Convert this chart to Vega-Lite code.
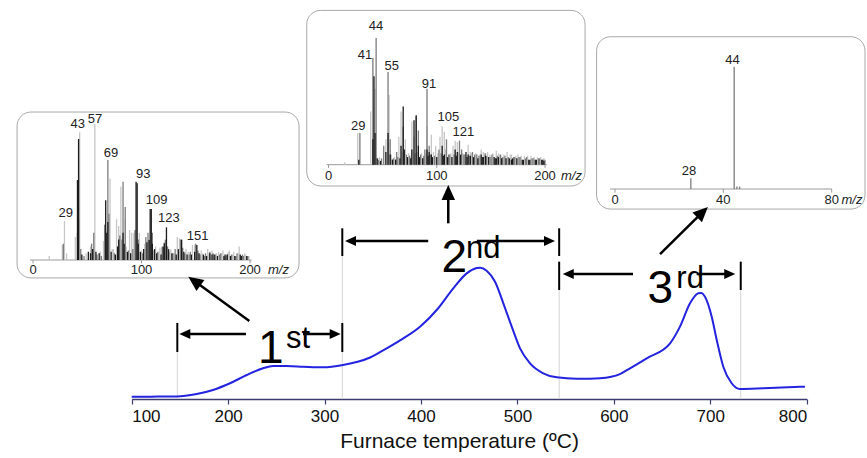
{
  "$schema": "https://vega.github.io/schema/vega-lite/v6.json",
  "width": 867,
  "height": 399,
  "autosize": "none",
  "padding": {"left": 0, "top": 0, "right": 0, "bottom": 59},
  "background": "white",
  "config": {"view": {"stroke": null}, "font": "Liberation Sans"},
  "datasets": {
    "curve": [
      {"T":100,"I":1.75},{"T":120,"I":1.8},{"T":146.7,"I":1.9},{"T":167.4,"I":3.8},{"T":184.3,"I":6.9},{"T":202,"I":12.0},{"T":219.3,"I":18.3},{"T":236.2,"I":23.4},{"T":246.6,"I":25.1},{"T":260.8,"I":25.1},{"T":277.7,"I":24.6},{"T":298.4,"I":24.1},{"T":319.2,"I":25.9},{"T":347.2,"I":31.6},{"T":364.4,"I":38.6},{"T":381.7,"I":46.2},{"T":399,"I":55.1},{"T":416.3,"I":67.8},{"T":433.5,"I":84.3},{"T":447.4,"I":95.7},{"T":457.8,"I":99.7},{"T":461.5,"I":100},{"T":468.1,"I":97.7},{"T":476.8,"I":89.3},{"T":485.4,"I":72.9},{"T":494.1,"I":55.1},{"T":502.7,"I":38.6},{"T":513.1,"I":27.2},{"T":526.8,"I":19.6},{"T":540.7,"I":16.5},{"T":561.5,"I":15.5},{"T":575.3,"I":15.5},{"T":585.7,"I":15.8},{"T":606.4,"I":19.0},{"T":616.8,"I":23.4},{"T":634.1,"I":31.0},{"T":658.3,"I":42.4},{"T":668.6,"I":55.1},{"T":679,"I":72.9},{"T":687.6,"I":80.5},{"T":690.5,"I":80.8},{"T":694.5,"I":77.9},{"T":701.5,"I":62.7},{"T":706.7,"I":44.9},{"T":713.5,"I":24.6},{"T":722.2,"I":12.0},{"T":730.8,"I":7.6},{"T":755,"I":8.1},{"T":798.2,"I":9.4}
    ],
    "segs": [
      {"kind":"guide","T":147.3,"I":0,"T2":147.3,"I2":35.8},
      {"kind":"guide","T":318.4,"I":0,"T2":318.4,"I2":108.9},
      {"kind":"guide","T":543.3,"I":0,"T2":543.3,"I2":83.0},
      {"kind":"guide","T":731.6,"I":0,"T2":731.6,"I2":83.0},
      {"kind":"bar","T":147.3,"I":35.8,"T2":147.3,"I2":57.9},
      {"kind":"bar","T":318.4,"I":35.8,"T2":318.4,"I2":57.9},
      {"kind":"bar","T":318.4,"I":108.9,"T2":318.4,"I2":130.0},
      {"kind":"bar","T":543.3,"I":108.9,"T2":543.3,"I2":130.0},
      {"kind":"bar","T":543.3,"I":83.0,"T2":543.3,"I2":104.6},
      {"kind":"bar","T":731.6,"I":83.0,"T2":731.6,"I2":104.6},
      {"kind":"shaft","T":154.2,"I":49.5,"T2":218.5,"I2":49.5},
      {"kind":"shaft","T":277.6,"I":49.5,"T2":310.8,"I2":49.5},
      {"kind":"shaft","T":326.4,"I":120.3,"T2":407.5,"I2":120.3},
      {"kind":"shaft","T":457.8,"I":120.3,"T2":533.0,"I2":120.3},
      {"kind":"shaft","T":552.7,"I":95.2,"T2":619.9,"I2":95.2},
      {"kind":"shaft","T":685.9,"I":95.2,"T2":720.0,"I2":95.2},
      {"kind":"shaft","T":222.0,"I":59.4,"T2":165.0,"I2":89.8},
      {"kind":"shaft","T":428.3,"I":133.8,"T2":428.3,"I2":157.3},
      {"kind":"shaft","T":647.9,"I":110.4,"T2":692.0,"I2":142.3}
    ],
    "heads": [
      {"kind":"small","T":155.1,"I":49.5,"dir":-90},
      {"kind":"small","T":311.0,"I":49.5,"dir":90},
      {"kind":"small","T":326.9,"I":120.3,"dir":-90},
      {"kind":"small","T":533.3,"I":120.3,"dir":90},
      {"kind":"small","T":552.7,"I":95.2,"dir":-90},
      {"kind":"small","T":720.2,"I":95.2,"dir":90},
      {"kind":"big","T":165.0,"I":89.8,"dir":-54},
      {"kind":"big","T":428.3,"I":157.3,"dir":0},
      {"kind":"big","T":692.0,"I":142.3,"dir":45.6}
    ],
    "labels": [
      {"kind":"big","T":231.0,"I":27.4,"text":"1"},
      {"kind":"big","T":421.3,"I":97.0,"text":"2"},
      {"kind":"big","T":634.8,"I":72.9,"text":"3"},
      {"kind":"sup","T":260.1,"I":38.8,"text":"st"},
      {"kind":"sup","T":446.7,"I":107.4,"text":"nd"},
      {"kind":"sup","T":664.8,"I":84.3,"text":"rd"}
    ],
    "frame1": [
      {"part":"box","mz":-14.7,"v":-13.2,"mz2":245.2,"v2":108.8},
      {"part":"axis","mz":-2.8,"v":0,"mz2":201.6,"v2":0},
      {"part":"tick","mz":0,"v":0,"mz2":0,"v2":-2.5},
      {"part":"tick","mz":100,"v":0,"mz2":100,"v2":-2.5},
      {"part":"tick","mz":200,"v":0,"mz2":200,"v2":-2.5},
      {"part":"tlabel","mz":0,"v":-10.3,"text":"0"},
      {"part":"tlabel","mz":100,"v":-10.3,"text":"100"},
      {"part":"tlabel","mz":200,"v":-10.3,"text":"200"},
      {"part":"unit","mz":216.6,"v":-10.3,"text":"m/z"},
      {"part":"plabel","mz":30.1,"v":31.8,"text":"29"},
      {"part":"plabel","mz":41.2,"v":96.8,"text":"43"},
      {"part":"plabel","mz":57.1,"v":100.9,"text":"57"},
      {"part":"plabel","mz":71.9,"v":75.9,"text":"69"},
      {"part":"plabel","mz":101.7,"v":60.0,"text":"93"},
      {"part":"plabel","mz":114.0,"v":41.2,"text":"109"},
      {"part":"plabel","mz":125.3,"v":28.2,"text":"123"},
      {"part":"plabel","mz":151.8,"v":14.7,"text":"151"}
    ],
    "spec1": [
      {"mz":15,"v":3,"shade":"l"},{"mz":27,"v":11,"shade":"l"},{"mz":29,"v":28.7,"shade":"l"},{"mz":31,"v":5,"shade":"l"},{"mz":39,"v":17,"shade":"l"},{"mz":43,"v":94,"shade":"l"},{"mz":49,"v":5,"shade":"l"},{"mz":53,"v":10,"shade":"l"},{"mz":57,"v":100,"shade":"l"},{"mz":62,"v":6,"shade":"l"},{"mz":65,"v":14,"shade":"l"},{"mz":67,"v":22,"shade":"l"},{"mz":71,"v":60,"shade":"l"},{"mz":73,"v":8,"shade":"l"},{"mz":74,"v":8,"shade":"l"},{"mz":77,"v":30,"shade":"l"},{"mz":79,"v":25,"shade":"l"},{"mz":81,"v":54,"shade":"l"},{"mz":85,"v":30,"shade":"l"},{"mz":86,"v":10,"shade":"l"},{"mz":89,"v":22,"shade":"l"},{"mz":91,"v":20,"shade":"l"},{"mz":93,"v":20,"shade":"l"},{"mz":98,"v":20,"shade":"l"},{"mz":100,"v":7,"shade":"l"},{"mz":103,"v":12,"shade":"l"},{"mz":107,"v":15,"shade":"l"},{"mz":111,"v":7,"shade":"l"},{"mz":113,"v":10,"shade":"l"},{"mz":116,"v":6,"shade":"l"},{"mz":117,"v":9,"shade":"l"},{"mz":121,"v":13,"shade":"l"},{"mz":126,"v":6,"shade":"l"},{"mz":127,"v":8,"shade":"l"},{"mz":130,"v":5,"shade":"l"},{"mz":133,"v":17,"shade":"l"},{"mz":135,"v":16,"shade":"l"},{"mz":141,"v":8,"shade":"l"},{"mz":143,"v":6,"shade":"l"},{"mz":147,"v":11,"shade":"l"},{"mz":149,"v":11,"shade":"l"},{"mz":155,"v":7,"shade":"l"},{"mz":156,"v":5,"shade":"l"},{"mz":161,"v":8,"shade":"l"},{"mz":162,"v":5,"shade":"l"},{"mz":165,"v":7,"shade":"l"},{"mz":169,"v":5,"shade":"l"},{"mz":171,"v":6,"shade":"l"},{"mz":174,"v":5,"shade":"l"},{"mz":175,"v":7,"shade":"l"},{"mz":180,"v":6,"shade":"l"},{"mz":181,"v":7,"shade":"l"},{"mz":184,"v":4,"shade":"l"},{"mz":185,"v":6,"shade":"l"},{"mz":189,"v":5,"shade":"l"},{"mz":190,"v":10,"shade":"l"},{"mz":195,"v":5,"shade":"l"},{"mz":196,"v":4,"shade":"l"},{"mz":199,"v":3,"shade":"l"},
      {"mz":28,"v":12,"shade":"g"},{"mz":41,"v":20,"shade":"g"},{"mz":42,"v":30,"shade":"g"},{"mz":44,"v":8,"shade":"g"},{"mz":47,"v":3,"shade":"g"},{"mz":54,"v":12,"shade":"g"},{"mz":56,"v":20,"shade":"g"},{"mz":59,"v":4,"shade":"g"},{"mz":63,"v":3,"shade":"g"},{"mz":66,"v":26,"shade":"g"},{"mz":69,"v":73.5,"shade":"g"},{"mz":70,"v":34,"shade":"g"},{"mz":75,"v":5,"shade":"g"},{"mz":80,"v":18,"shade":"g"},{"mz":82,"v":15,"shade":"g"},{"mz":83,"v":57.6,"shade":"g"},{"mz":85,"v":39,"shade":"g"},{"mz":88,"v":7,"shade":"g"},{"mz":92,"v":8,"shade":"g"},{"mz":94,"v":22,"shade":"g"},{"mz":97,"v":15,"shade":"g"},{"mz":101,"v":5,"shade":"g"},{"mz":104,"v":17,"shade":"g"},{"mz":106,"v":20,"shade":"g"},{"mz":110,"v":20,"shade":"g"},{"mz":115,"v":6,"shade":"g"},{"mz":119,"v":9.8,"shade":"g"},{"mz":122,"v":15,"shade":"g"},{"mz":124,"v":10,"shade":"g"},{"mz":129,"v":5,"shade":"g"},{"mz":131,"v":8,"shade":"g"},{"mz":136,"v":15,"shade":"g"},{"mz":138,"v":9,"shade":"g"},{"mz":140,"v":5,"shade":"g"},{"mz":144,"v":4,"shade":"g"},{"mz":145,"v":6,"shade":"g"},{"mz":150,"v":12,"shade":"g"},{"mz":152,"v":7,"shade":"g"},{"mz":154,"v":4,"shade":"g"},{"mz":158,"v":3,"shade":"g"},{"mz":159,"v":5,"shade":"g"},{"mz":163,"v":6,"shade":"g"},{"mz":166,"v":5,"shade":"g"},{"mz":168,"v":4,"shade":"g"},{"mz":172,"v":4,"shade":"g"},{"mz":173,"v":5,"shade":"g"},{"mz":178,"v":3,"shade":"g"},{"mz":179,"v":4,"shade":"g"},{"mz":183,"v":4,"shade":"g"},{"mz":187,"v":3,"shade":"g"},{"mz":188,"v":5,"shade":"g"},{"mz":193,"v":4,"shade":"g"},{"mz":194,"v":3,"shade":"g"},{"mz":198,"v":3,"shade":"g"},
      {"mz":41,"v":58.8,"shade":"k"},{"mz":42,"v":89,"shade":"k"},{"mz":45,"v":4,"shade":"k"},{"mz":51,"v":6,"shade":"k"},{"mz":53,"v":5,"shade":"k"},{"mz":55,"v":8,"shade":"k"},{"mz":58,"v":6,"shade":"k"},{"mz":61,"v":5,"shade":"k"},{"mz":67,"v":44,"shade":"k"},{"mz":68,"v":20,"shade":"k"},{"mz":69,"v":28,"shade":"k"},{"mz":72,"v":6,"shade":"k"},{"mz":76,"v":4,"shade":"k"},{"mz":78,"v":10,"shade":"k"},{"mz":79,"v":15,"shade":"k"},{"mz":83,"v":20,"shade":"k"},{"mz":84,"v":12,"shade":"k"},{"mz":87,"v":6,"shade":"k"},{"mz":90,"v":5,"shade":"k"},{"mz":95,"v":57.6,"shade":"k"},{"mz":96,"v":56.4,"shade":"k"},{"mz":97,"v":12,"shade":"k"},{"mz":99,"v":6,"shade":"k"},{"mz":102,"v":8,"shade":"k"},{"mz":105,"v":13,"shade":"k"},{"mz":107,"v":14.7,"shade":"k"},{"mz":108,"v":37.5,"shade":"k"},{"mz":109,"v":37.5,"shade":"k"},{"mz":110,"v":12,"shade":"k"},{"mz":112,"v":8,"shade":"k"},{"mz":114,"v":5,"shade":"k"},{"mz":118,"v":4,"shade":"k"},{"mz":120,"v":10,"shade":"k"},{"mz":121,"v":12.3,"shade":"k"},{"mz":123,"v":24,"shade":"k"},{"mz":125,"v":8,"shade":"k"},{"mz":128,"v":5,"shade":"k"},{"mz":132,"v":4,"shade":"k"},{"mz":134,"v":8,"shade":"k"},{"mz":137,"v":15,"shade":"k"},{"mz":139,"v":6,"shade":"k"},{"mz":142,"v":4,"shade":"k"},{"mz":146,"v":4,"shade":"k"},{"mz":149,"v":6,"shade":"k"},{"mz":151,"v":11,"shade":"k"},{"mz":153,"v":5,"shade":"k"},{"mz":157,"v":4,"shade":"k"},{"mz":160,"v":3,"shade":"k"},{"mz":163,"v":5,"shade":"k"},{"mz":165,"v":4,"shade":"k"},{"mz":167,"v":4,"shade":"k"},{"mz":170,"v":3,"shade":"k"},{"mz":176,"v":3,"shade":"k"},{"mz":177,"v":4,"shade":"k"},{"mz":179,"v":4,"shade":"k"},{"mz":182,"v":3,"shade":"k"},{"mz":186,"v":3,"shade":"k"},{"mz":191,"v":4,"shade":"k"},{"mz":192,"v":3,"shade":"k"},{"mz":197,"v":3,"shade":"k"}
    ],
    "frame2": [
      {"part":"box","mz":-20.1,"v":-16.8,"mz2":237.0,"v2":121.8},
      {"part":"axis","mz":-1.7,"v":0,"mz2":201.6,"v2":0},
      {"part":"tick","mz":0,"v":0,"mz2":0,"v2":-2.5},
      {"part":"tick","mz":100,"v":0,"mz2":100,"v2":-2.5},
      {"part":"tick","mz":200,"v":0,"mz2":200,"v2":-2.5},
      {"part":"tlabel","mz":0,"v":-11.8,"text":"0"},
      {"part":"tlabel","mz":100,"v":-11.8,"text":"100"},
      {"part":"tlabel","mz":200,"v":-11.8,"text":"200"},
      {"part":"unit","mz":214.8,"v":-11.8,"text":"m/z"},
      {"part":"plabel","mz":43.9,"v":106.6,"text":"44"},
      {"part":"plabel","mz":33.7,"v":83.7,"text":"41"},
      {"part":"plabel","mz":58.4,"v":75.0,"text":"55"},
      {"part":"plabel","mz":92.8,"v":60.5,"text":"91"},
      {"part":"plabel","mz":110.7,"v":34.7,"text":"105"},
      {"part":"plabel","mz":124.5,"v":22.4,"text":"121"},
      {"part":"plabel","mz":27.5,"v":27.6,"text":"29"}
    ],
    "spec2": [
      {"mz":15,"v":2,"shade":"l"},{"mz":27,"v":25,"shade":"l"},{"mz":39,"v":42,"shade":"l"},{"mz":43,"v":60,"shade":"l"},{"mz":47,"v":6,"shade":"l"},{"mz":53,"v":20,"shade":"l"},{"mz":56,"v":55,"shade":"l"},{"mz":58,"v":8,"shade":"l"},{"mz":61,"v":6,"shade":"l"},{"mz":65,"v":22,"shade":"l"},{"mz":67,"v":42,"shade":"l"},{"mz":68,"v":10,"shade":"l"},{"mz":71,"v":20,"shade":"l"},{"mz":74,"v":9,"shade":"l"},{"mz":77,"v":34,"shade":"l"},{"mz":78,"v":12,"shade":"l"},{"mz":79,"v":22,"shade":"l"},{"mz":82,"v":10,"shade":"l"},{"mz":86,"v":9,"shade":"l"},{"mz":90,"v":9,"shade":"l"},{"mz":91,"v":30,"shade":"l"},{"mz":95,"v":23.7,"shade":"l"},{"mz":97,"v":10,"shade":"l"},{"mz":99,"v":15,"shade":"l"},{"mz":101,"v":9,"shade":"l"},{"mz":103,"v":22,"shade":"l"},{"mz":105,"v":30.3,"shade":"l"},{"mz":107,"v":26,"shade":"l"},{"mz":108,"v":12,"shade":"l"},{"mz":113,"v":9,"shade":"l"},{"mz":115,"v":15,"shade":"l"},{"mz":117,"v":19,"shade":"l"},{"mz":119,"v":18,"shade":"l"},{"mz":120,"v":10,"shade":"l"},{"mz":124,"v":9,"shade":"l"},{"mz":129,"v":15.8,"shade":"l"},{"mz":131,"v":10,"shade":"l"},{"mz":132,"v":9,"shade":"l"},{"mz":136,"v":9,"shade":"l"},{"mz":140,"v":8,"shade":"l"},{"mz":141,"v":12,"shade":"l"},{"mz":143,"v":10,"shade":"l"},{"mz":144,"v":9,"shade":"l"},{"mz":147,"v":10,"shade":"l"},{"mz":149,"v":8,"shade":"l"},{"mz":152,"v":9,"shade":"l"},{"mz":155,"v":11,"shade":"l"},{"mz":157,"v":9,"shade":"l"},{"mz":158,"v":8,"shade":"l"},{"mz":162,"v":8,"shade":"l"},{"mz":165,"v":10,"shade":"l"},{"mz":168,"v":8,"shade":"l"},{"mz":169,"v":8,"shade":"l"},{"mz":173,"v":7,"shade":"l"},{"mz":175,"v":8,"shade":"l"},{"mz":178,"v":7,"shade":"l"},{"mz":181,"v":7,"shade":"l"},{"mz":184,"v":7,"shade":"l"},{"mz":187,"v":7,"shade":"l"},{"mz":190,"v":6,"shade":"l"},{"mz":193,"v":6,"shade":"l"},{"mz":196,"v":6,"shade":"l"},{"mz":199,"v":5,"shade":"l"},
      {"mz":29,"v":25,"shade":"g"},{"mz":41,"v":84.2,"shade":"g"},{"mz":44,"v":100,"shade":"g"},{"mz":46,"v":4,"shade":"g"},{"mz":49,"v":5,"shade":"g"},{"mz":51,"v":15,"shade":"g"},{"mz":55,"v":73.2,"shade":"g"},{"mz":57,"v":20,"shade":"g"},{"mz":60,"v":5,"shade":"g"},{"mz":63,"v":10,"shade":"g"},{"mz":64,"v":6,"shade":"g"},{"mz":69,"v":30,"shade":"g"},{"mz":72,"v":8,"shade":"g"},{"mz":75,"v":7,"shade":"g"},{"mz":80,"v":9,"shade":"g"},{"mz":81,"v":38,"shade":"g"},{"mz":83,"v":27,"shade":"g"},{"mz":85,"v":8,"shade":"g"},{"mz":88,"v":7,"shade":"g"},{"mz":89,"v":12,"shade":"g"},{"mz":91,"v":60,"shade":"g"},{"mz":93,"v":15,"shade":"g"},{"mz":94,"v":8,"shade":"g"},{"mz":98,"v":7,"shade":"g"},{"mz":102,"v":12,"shade":"g"},{"mz":104,"v":9,"shade":"g"},{"mz":109,"v":20,"shade":"g"},{"mz":111,"v":8,"shade":"g"},{"mz":112,"v":8,"shade":"g"},{"mz":116,"v":8,"shade":"g"},{"mz":121,"v":19,"shade":"g"},{"mz":123,"v":12,"shade":"g"},{"mz":125,"v":8,"shade":"g"},{"mz":126,"v":8,"shade":"g"},{"mz":130,"v":7,"shade":"g"},{"mz":133,"v":10,"shade":"g"},{"mz":135,"v":8,"shade":"g"},{"mz":137,"v":8,"shade":"g"},{"mz":139,"v":7,"shade":"g"},{"mz":145,"v":9,"shade":"g"},{"mz":146,"v":7,"shade":"g"},{"mz":150,"v":6,"shade":"g"},{"mz":151,"v":8,"shade":"g"},{"mz":156,"v":7,"shade":"g"},{"mz":159,"v":8,"shade":"g"},{"mz":161,"v":6,"shade":"g"},{"mz":163,"v":7,"shade":"g"},{"mz":166,"v":6,"shade":"g"},{"mz":171,"v":6,"shade":"g"},{"mz":172,"v":6,"shade":"g"},{"mz":176,"v":6,"shade":"g"},{"mz":177,"v":6,"shade":"g"},{"mz":182,"v":5,"shade":"g"},{"mz":183,"v":6,"shade":"g"},{"mz":188,"v":5,"shade":"g"},{"mz":189,"v":5,"shade":"g"},{"mz":194,"v":5,"shade":"g"},{"mz":195,"v":5,"shade":"g"},{"mz":200,"v":4,"shade":"g"},
      {"mz":28,"v":4,"shade":"k"},{"mz":41,"v":20,"shade":"k"},{"mz":42,"v":69.8,"shade":"k"},{"mz":43,"v":25,"shade":"k"},{"mz":45,"v":5,"shade":"k"},{"mz":48,"v":3,"shade":"k"},{"mz":53,"v":10,"shade":"k"},{"mz":55,"v":25,"shade":"k"},{"mz":57,"v":8,"shade":"k"},{"mz":59,"v":4,"shade":"k"},{"mz":62,"v":4,"shade":"k"},{"mz":66,"v":5,"shade":"k"},{"mz":67,"v":15,"shade":"k"},{"mz":69,"v":46,"shade":"k"},{"mz":70,"v":12,"shade":"k"},{"mz":73,"v":6,"shade":"k"},{"mz":76,"v":5,"shade":"k"},{"mz":77,"v":12,"shade":"k"},{"mz":79,"v":35,"shade":"k"},{"mz":81,"v":39,"shade":"k"},{"mz":83,"v":15,"shade":"k"},{"mz":84,"v":6,"shade":"k"},{"mz":87,"v":5,"shade":"k"},{"mz":91,"v":12,"shade":"k"},{"mz":92,"v":7,"shade":"k"},{"mz":93,"v":10,"shade":"k"},{"mz":95,"v":8,"shade":"k"},{"mz":96,"v":6,"shade":"k"},{"mz":100,"v":6,"shade":"k"},{"mz":105,"v":15,"shade":"k"},{"mz":106,"v":7,"shade":"k"},{"mz":107,"v":8,"shade":"k"},{"mz":110,"v":6,"shade":"k"},{"mz":114,"v":6,"shade":"k"},{"mz":117,"v":12,"shade":"k"},{"mz":118,"v":7,"shade":"k"},{"mz":119,"v":10,"shade":"k"},{"mz":122,"v":8,"shade":"k"},{"mz":127,"v":10,"shade":"k"},{"mz":128,"v":6,"shade":"k"},{"mz":129,"v":8,"shade":"k"},{"mz":131,"v":7,"shade":"k"},{"mz":134,"v":6,"shade":"k"},{"mz":138,"v":5,"shade":"k"},{"mz":141,"v":8,"shade":"k"},{"mz":142,"v":6,"shade":"k"},{"mz":143,"v":6,"shade":"k"},{"mz":145,"v":7,"shade":"k"},{"mz":148,"v":6,"shade":"k"},{"mz":153,"v":6,"shade":"k"},{"mz":154,"v":5,"shade":"k"},{"mz":155,"v":5,"shade":"k"},{"mz":157,"v":6,"shade":"k"},{"mz":160,"v":5,"shade":"k"},{"mz":164,"v":5,"shade":"k"},{"mz":167,"v":5,"shade":"k"},{"mz":169,"v":4,"shade":"k"},{"mz":170,"v":5,"shade":"k"},{"mz":174,"v":5,"shade":"k"},{"mz":179,"v":4,"shade":"k"},{"mz":180,"v":4,"shade":"k"},{"mz":185,"v":4,"shade":"k"},{"mz":186,"v":4,"shade":"k"},{"mz":191,"v":4,"shade":"k"},{"mz":192,"v":4,"shade":"k"},{"mz":197,"v":4,"shade":"k"},{"mz":198,"v":4,"shade":"k"},{"mz":199,"v":3,"shade":"k"}
    ],
    "frame3": [
      {"part":"box","mz":-6.8,"v":-16.4,"mz2":92.3,"v2":124.5},
      {"part":"axis","mz":-1.8,"v":0,"mz2":80.1,"v2":0},
      {"part":"tick","mz":0,"v":0,"mz2":0,"v2":-3},
      {"part":"tick","mz":40,"v":0,"mz2":40,"v2":-3},
      {"part":"tick","mz":80,"v":0,"mz2":80,"v2":-3},
      {"part":"tlabel","mz":0,"v":-12.5,"text":"0"},
      {"part":"tlabel","mz":40,"v":-12.5,"text":"40"},
      {"part":"tlabel","mz":80,"v":-12.5,"text":"80"},
      {"part":"unit","mz":83.6,"v":-12.5,"text":"m/z"},
      {"part":"plabel","mz":43.4,"v":102.0,"text":"44"},
      {"part":"plabel","mz":27.3,"v":11.4,"text":"28"}
    ],
    "spec3": [
      {"mz":28,"v":8.7,"shade":"g"},{"mz":44,"v":100,"shade":"g"},{"mz":45,"v":2,"shade":"g"},{"mz":46,"v":2,"shade":"g"}
    ]
  },
  "layer": [
    {
      "encoding": {
        "x": {"field": "mz", "type": "quantitative", "scale": {"domain": [0, 200], "range": [33, 250], "nice": false, "zero": false}, "axis": null},
        "y": {"field": "v", "type": "quantitative", "scale": {"domain": [0, 100], "range": [260, 124], "nice": false, "zero": false}, "axis": null}
      },
      "layer": [
        {"data": {"name": "frame1"}, "transform": [{"filter": "datum.part === 'box'"}], "mark": {"type": "rect", "fill": "white", "stroke": "#a8a8a8", "strokeWidth": 1, "cornerRadius": 14}, "encoding": {"x2": {"field": "mz2"}, "y2": {"field": "v2"}}},
        {"data": {"name": "frame1"}, "transform": [{"filter": "datum.part === 'axis' || datum.part === 'tick'"}], "mark": {"type": "rule", "color": "#9a9a9a", "strokeWidth": 1}, "encoding": {"x2": {"field": "mz2"}, "y2": {"field": "v2"}}},
        {"data": {"name": "spec1"}, "mark": {"type": "rule", "strokeWidth": 1.3}, "encoding": {"y2": {"datum": 0}, "color": {"field": "shade", "type": "nominal", "scale": {"domain": ["l", "g", "k"], "range": ["#c6c6c6", "#7c7c7c", "#1a1a1a"]}, "legend": null}}},
        {"data": {"name": "frame1"}, "transform": [{"filter": "datum.part === 'tlabel' || datum.part === 'plabel'"}], "mark": {"type": "text", "align": "center", "baseline": "alphabetic", "fontSize": 13, "font": "Liberation Sans", "color": "#222"}, "encoding": {"text": {"field": "text"}}},
        {"data": {"name": "frame1"}, "transform": [{"filter": "datum.part === 'unit'"}], "mark": {"type": "text", "align": "left", "baseline": "alphabetic", "fontSize": 13, "fontStyle": "italic", "font": "Liberation Sans", "color": "#222"}, "encoding": {"text": {"field": "text"}}}
      ]
    },
    {
      "encoding": {
        "x": {"field": "mz", "type": "quantitative", "scale": {"domain": [0, 200], "range": [328.5, 545], "nice": false, "zero": false}, "axis": null},
        "y": {"field": "v", "type": "quantitative", "scale": {"domain": [0, 100], "range": [164.7, 38], "nice": false, "zero": false}, "axis": null}
      },
      "layer": [
        {"data": {"name": "frame2"}, "transform": [{"filter": "datum.part === 'box'"}], "mark": {"type": "rect", "fill": "white", "stroke": "#a8a8a8", "strokeWidth": 1, "cornerRadius": 14}, "encoding": {"x2": {"field": "mz2"}, "y2": {"field": "v2"}}},
        {"data": {"name": "frame2"}, "transform": [{"filter": "datum.part === 'axis' || datum.part === 'tick'"}], "mark": {"type": "rule", "color": "#9a9a9a", "strokeWidth": 1}, "encoding": {"x2": {"field": "mz2"}, "y2": {"field": "v2"}}},
        {"data": {"name": "spec2"}, "mark": {"type": "rule", "strokeWidth": 1.3}, "encoding": {"y2": {"datum": 0}, "color": {"field": "shade", "type": "nominal", "scale": {"domain": ["l", "g", "k"], "range": ["#c6c6c6", "#7c7c7c", "#1a1a1a"]}, "legend": null}}},
        {"data": {"name": "frame2"}, "transform": [{"filter": "datum.part === 'tlabel' || datum.part === 'plabel'"}], "mark": {"type": "text", "align": "center", "baseline": "alphabetic", "fontSize": 13, "font": "Liberation Sans", "color": "#222"}, "encoding": {"text": {"field": "text"}}},
        {"data": {"name": "frame2"}, "transform": [{"filter": "datum.part === 'unit'"}], "mark": {"type": "text", "align": "left", "baseline": "alphabetic", "fontSize": 13, "fontStyle": "italic", "font": "Liberation Sans", "color": "#222"}, "encoding": {"text": {"field": "text"}}}
      ]
    },
    {
      "encoding": {
        "x": {"field": "mz", "type": "quantitative", "scale": {"domain": [0, 80], "range": [615, 831.7], "nice": false, "zero": false}, "axis": null},
        "y": {"field": "v", "type": "quantitative", "scale": {"domain": [0, 100], "range": [189, 66.7], "nice": false, "zero": false}, "axis": null}
      },
      "layer": [
        {"data": {"name": "frame3"}, "transform": [{"filter": "datum.part === 'box'"}], "mark": {"type": "rect", "fill": "white", "stroke": "#a8a8a8", "strokeWidth": 1, "cornerRadius": 14}, "encoding": {"x2": {"field": "mz2"}, "y2": {"field": "v2"}}},
        {"data": {"name": "frame3"}, "transform": [{"filter": "datum.part === 'axis' || datum.part === 'tick'"}], "mark": {"type": "rule", "color": "#9a9a9a", "strokeWidth": 1}, "encoding": {"x2": {"field": "mz2"}, "y2": {"field": "v2"}}},
        {"data": {"name": "spec3"}, "mark": {"type": "rule", "strokeWidth": 1.3}, "encoding": {"y2": {"datum": 0}, "color": {"field": "shade", "type": "nominal", "scale": {"domain": ["l", "g", "k"], "range": ["#c6c6c6", "#8a8a8a", "#1a1a1a"]}, "legend": null}}},
        {"data": {"name": "frame3"}, "transform": [{"filter": "datum.part === 'tlabel' || datum.part === 'plabel'"}], "mark": {"type": "text", "align": "center", "baseline": "alphabetic", "fontSize": 13, "font": "Liberation Sans", "color": "#222"}, "encoding": {"text": {"field": "text"}}},
        {"data": {"name": "frame3"}, "transform": [{"filter": "datum.part === 'unit'"}], "mark": {"type": "text", "align": "left", "baseline": "alphabetic", "fontSize": 13, "fontStyle": "italic", "font": "Liberation Sans", "color": "#222"}, "encoding": {"text": {"field": "text"}}}
      ]
    },
    {
      "encoding": {
        "x": {
          "field": "T", "type": "quantitative",
          "scale": {"domain": [100, 800], "range": [131.7, 806.7], "nice": false, "zero": false},
          "axis": {
            "values": [100, 200, 300, 400, 500, 600, 700, 800],
            "title": "Furnace temperature (ºC)",
            "grid": false,
            "domainColor": "#3c3c6e", "domainWidth": 1.6,
            "tickColor": "#3c3c6e", "tickWidth": 1.2, "tickSize": 5,
            "labelPadding": 4, "labelFontSize": 17, "labelFont": "Liberation Sans", "labelColor": "#111",
            "titleFontSize": 21, "titleFont": "Liberation Sans", "titleFontWeight": "normal", "titleColor": "#111",
            "titleX": 459, "titleY": 48, "titleBaseline": "alphabetic", "titleAlign": "center"
          }
        },
        "y": {"field": "I", "type": "quantitative", "scale": {"domain": [0, 100], "range": [399, 267.7], "nice": false, "zero": false}, "axis": null}
      },
      "layer": [
        {"data": {"name": "segs"}, "transform": [{"filter": "datum.kind === 'guide'"}], "mark": {"type": "rule", "color": "#d4d4d4", "strokeWidth": 1}, "encoding": {"x2": {"field": "T2"}, "y2": {"field": "I2"}}},
        {"data": {"name": "curve"}, "mark": {"type": "line", "color": "#2323e0", "strokeWidth": 2, "interpolate": "monotone"}, "encoding": {}},
        {"data": {"name": "labels"}, "transform": [{"filter": "datum.kind === 'big'"}], "mark": {"type": "text", "align": "left", "baseline": "alphabetic", "fontSize": 46, "font": "Liberation Sans", "color": "#000"}, "encoding": {"text": {"field": "text"}}},
        {"data": {"name": "labels"}, "transform": [{"filter": "datum.kind === 'sup'"}], "mark": {"type": "text", "align": "left", "baseline": "alphabetic", "fontSize": 31, "font": "Liberation Sans", "color": "#000"}, "encoding": {"text": {"field": "text"}}},
        {"data": {"name": "segs"}, "transform": [{"filter": "datum.kind === 'bar'"}], "mark": {"type": "rule", "color": "#000", "strokeWidth": 2}, "encoding": {"x2": {"field": "T2"}, "y2": {"field": "I2"}}},
        {"data": {"name": "segs"}, "transform": [{"filter": "datum.kind === 'shaft'"}], "mark": {"type": "rule", "color": "#000", "strokeWidth": 2.5}, "encoding": {"x2": {"field": "T2"}, "y2": {"field": "I2"}}},
        {"data": {"name": "heads"}, "transform": [{"filter": "datum.kind === 'small'"}], "mark": {"type": "point", "shape": "M0,-1L0.9,1L-0.9,1Z", "filled": true, "color": "#000", "opacity": 1, "size": 121}, "encoding": {"angle": {"field": "dir", "type": "quantitative", "scale": null}}},
        {"data": {"name": "heads"}, "transform": [{"filter": "datum.kind === 'big'"}], "mark": {"type": "point", "shape": "M0,-1L0.9,1L-0.9,1Z", "filled": true, "color": "#000", "opacity": 1, "size": 225}, "encoding": {"angle": {"field": "dir", "type": "quantitative", "scale": null}}}
      ]
    }
  ],
  "resolve": {"scale": {"x": "independent", "y": "independent"}, "axis": {"x": "independent", "y": "independent"}}
}
